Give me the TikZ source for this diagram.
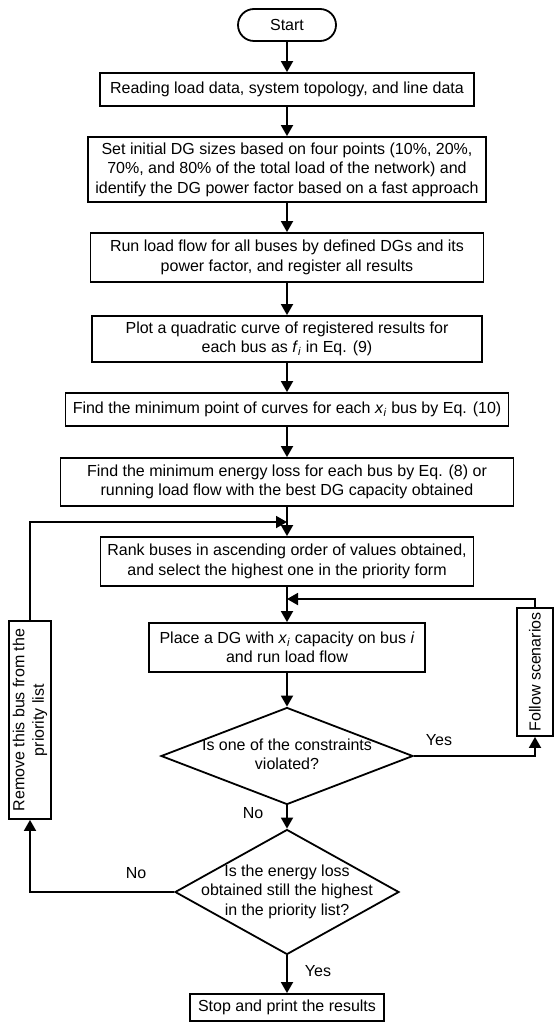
\documentclass[tikz,border=0pt]{standalone}
\usepackage{fontspec}
\setmainfont{Liberation Sans}
\usetikzlibrary{shapes.geometric,arrows.meta}

\newcommand{\nowidth}[1]{\makebox[0pt]{\begin{tabular}{@{}c@{}}#1\end{tabular}}}

\begin{document}
\begin{tikzpicture}[x=1pt,y=-1pt,
    every node/.style={font=\fontsize{16}{19.5}\selectfont},
    box/.style={draw,line width=1.8pt,align=center,inner sep=0pt},
    decision/.style={draw,diamond,line width=1.8pt,inner sep=0pt},
    link/.style={line width=1.8pt,-{Triangle[length=11pt,width=12pt]}},
    lbl/.style={inner sep=0pt}]
    \useasboundingbox (0,0) rectangle (555,1024);

    \node[box,rounded corners=16pt,minimum width=98pt,minimum height=32pt] (start) at (287,25) {Start};
    \node[box,minimum width=374pt,minimum height=33pt] (read) at (287,89.5) {Reading load data, system topology, and line data};
    \node[box,minimum width=398pt,minimum height=65pt] (init) at (287,169.5) {Set initial DG sizes based on four points (10\%, 20\%,\\70\%, and 80\% of the total load of the network) and\\identify the DG power factor based on a fast approach};
    \node[box,minimum width=393pt,minimum height=49pt] (flow) at (287,257.5) {Run load flow for all buses by defined DGs and its\\power factor, and register all results};
    \node[box,minimum width=390pt,minimum height=46pt] (plot) at (287,339) {Plot a quadratic curve of registered results for\\each bus as \textit{f}\textsubscript{\textit{i}} in Eq. (9)};
    \node[box,minimum width=443pt,minimum height=33pt] (minpt) at (287,409.5) {Find the minimum point of curves for each \textit{x}\textsubscript{\textit{i}} bus by Eq. (10)};
    \node[box,minimum width=453pt,minimum height=48pt] (loss) at (287,482) {Find the minimum energy loss for each bus by Eq. (8) or\\running load flow with the best DG capacity obtained};
    \node[box,minimum width=373pt,minimum height=49pt] (rank) at (287,561.5) {Rank buses in ascending order of values obtained,\\and select the highest one in the priority form};
    \node[box,minimum width=276pt,minimum height=49pt] (place) at (287,647.5) {Place a DG with \textit{x}\textsubscript{\textit{i}} capacity on bus \textit{i}\\and run load flow};
    \node[decision,minimum width=252pt,minimum height=97pt] (viol) at (287,756) {\nowidth{Is one of the constraints\\violated?}};
    \node[decision,minimum width=224pt,minimum height=125pt] (best) at (287,892) {\nowidth{Is the energy loss\\obtained still the highest\\in the priority list?}};
    \node[box,minimum width=194pt,minimum height=27pt] (stop) at (287,1007.5) {Stop and print the results};
    \node[box,rotate=90,minimum width=198pt,minimum height=42pt] (remove) at (30,720) {Remove this bus from the\\priority list};
    \node[box,rotate=90,minimum width=128pt,minimum height=36pt] (follow) at (535,672) {Follow scenarios};

    \coordinate (j1) at (287,522);
    \coordinate (j2) at (287,599);

    \draw[link] (start) -- (read);
    \draw[link] (read) -- (init);
    \draw[link] (init) -- (flow);
    \draw[link] (flow) -- (plot);
    \draw[link] (plot) -- (minpt);
    \draw[link] (minpt) -- (loss);
    \draw[link] (loss) -- (rank);
    \draw[link] (rank) -- (place);
    \draw[link] (place) -- (viol);
    \draw[link] (viol) -- (best);
    \draw[link] (best) -- (stop);
    \draw[link] (viol.east) -| (follow);
    \draw[link] (follow) |- (j2);
    \draw[link] (best.west) -| (remove);
    \draw[link] (remove) |- (j1);

    \node[lbl] (yes1) at (439,740) {Yes};
    \node[lbl] (no1) at (253,813) {No};
    \node[lbl] (no2) at (136,873) {No};
    \node[lbl] (yes2) at (318,971) {Yes};
\end{tikzpicture}
\end{document}
